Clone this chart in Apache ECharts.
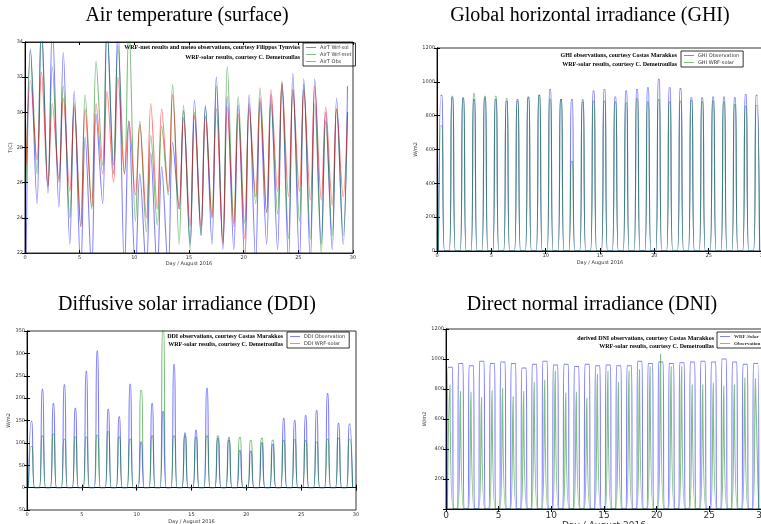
<!DOCTYPE html>
<html>
<head>
<meta charset="utf-8">
<script src="https://cdn.jsdelivr.net/npm/echarts@6/dist/echarts.min.js"></script>
<style>
  html, body { margin: 0; background: #fff; }
  #chart { width: 761px; height: 524px; }
</style>
</head>
<body>
<div id="chart"></div>
<script>
// day of August 2016 (0 = Aug 1), one entry per day
var days = [0, 1, 2, 3, 4, 5, 6, 7, 8, 9, 10, 11, 12, 13, 14, 15, 16, 17, 18, 19, 20, 21, 22, 23, 24, 25, 26, 27, 28, 29];
var xTicks = [0, 5, 10, 15, 20, 25, 30];

// air temperature, daily minimum (early morning) and maximum (midday), deg C
var tSolMin = [21, 24.8, 25.4, 24.6, 22.5, 21, 21, 24.8, 26.5, 21, 21, 21, 21, 21, 24.5, 22.5, 23, 22.5, 22.2, 22.2, 21.5, 21.5, 22.5, 22.2, 21.5, 21.5, 21.5, 22.5, 22.2, 22.5];
var tSolMax = [33.6, 35, 35, 33.4, 31.2, 28.6, 29.9, 35, 35, 29.5, 26.5, 27.7, 26.9, 28.3, 30.1, 30.7, 30.4, 32, 30.9, 30.4, 31, 30.6, 31, 31.6, 32.2, 31.9, 31.9, 30, 30.8, 31.5];
var tMetMin = [26, 26.5, 25.8, 26, 24, 23.5, 24.5, 27, 27, 26.5, 23.8, 23.2, 23.6, 25.3, 22.5, 22.2, 23, 24, 22.6, 23.7, 23.7, 24.8, 24.3, 24.2, 22.8, 23.8, 22.8, 22, 23, 23];
var tMetMax = [33.5, 35, 32.6, 31.5, 30.5, 31, 32.9, 35, 33.8, 35, 29.5, 28.7, 29.2, 31.6, 30.4, 30, 30.3, 31.5, 32.6, 30.9, 30.2, 31.4, 30.5, 31.8, 31.3, 31.6, 30.5, 29.5, 30.2, 30];
var tObsMin = [27, 27.3, 25.8, 26.2, 25.5, 23.5, 24.6, 26.5, 26, 26.5, 25.3, 24, 24.5, 25.5, 24.5, 23.5, 23.5, 24, 22.5, 23.5, 22.8, 25.2, 24.3, 25.5, 25.2, 25.5, 25, 25, 24.7, 25.2];
var tObsMax = [31.8, 32.3, 30.5, 30.8, 30.3, 30.2, 30.5, 31.2, 32, 29.5, 29.3, 30.5, 30.2, 31, 29.7, 29.8, 29.8, 30.2, 30.3, 29.9, 30.5, 30.8, 31.3, 31.7, 31.3, 31.3, 31.5, 30.3, 30.2, 30];

// daily peak irradiance, W/m2
var ghiObs = [920, 905, 905, 895, 905, 895, 885, 895, 910, 920, 955, 895, 895, 880, 945, 955, 910, 945, 955, 965, 1015, 965, 960, 905, 905, 910, 910, 905, 925, 920];
var ghiWrf = [740, 915, 900, 930, 915, 915, 900, 885, 905, 920, 895, 895, 530, 895, 885, 885, 880, 875, 900, 880, 895, 880, 885, 890, 880, 885, 880, 865, 855, 860];
var ddiObs = [148, 220, 188, 230, 177, 260, 305, 175, 158, 231, 102, 188, 170, 275, 122, 128, 222, 110, 112, 83, 82, 100, 97, 155, 150, 161, 172, 210, 144, 142];
var ddiWrf = [92, 115, 120, 108, 113, 113, 117, 125, 113, 108, 217, 115, 355, 115, 115, 112, 115, 115, 105, 112, 105, 110, 106, 105, 107, 105, 102, 108, 110, 107];
var dniWrf = [945, 970, 955, 985, 970, 980, 970, 940, 965, 985, 960, 965, 950, 965, 955, 960, 955, 955, 985, 970, 980, 970, 975, 980, 985, 980, 1000, 980, 965, 970];
var dniObs = [830, 785, 780, 745, 790, 805, 750, 785, 845, 860, 920, 775, 780, 740, 900, 920, 845, 920, 930, 950, 1035, 950, 950, 830, 830, 840, 820, 830, 875, 870];

var BLUE = 'rgba(0,0,255,0.5)';
var GREEN = 'rgba(0,128,0,0.5)';
var RED = 'rgba(255,0,0,0.5)';

// min in the early morning, max around midday
function tempLine(mins, maxs) {
  var out = [];
  for (var i = 0; i < days.length; i++) {
    out.push([days[i] + 0.1, mins[i]]);
    out.push([days[i] + 0.5, maxs[i]]);
  }
  return out;
}

// zero at night, dome around solar noon (top held for 'top' of a day)
function sunLine(peaks, rise, set, top) {
  var out = [];
  var mid = (rise + set) / 2;
  for (var i = 0; i < days.length; i++) {
    out.push([days[i] + rise, 0]);
    out.push([days[i] + mid - top / 2, peaks[i]]);
    out.push([days[i] + mid + top / 2, peaks[i]]);
    out.push([days[i] + set, 0]);
  }
  return out;
}

var chart = echarts.init(document.getElementById('chart'));

var grids = [
  {left: 25, top: 42, width: 328, height: 211},
  {left: 437, top: 48, width: 326, height: 203},
  {left: 27, top: 331, width: 329, height: 179},
  {left: 446, top: 329, width: 316, height: 180}
];

function xAx(i, fs, gap, mirror) {
  return {
    gridIndex: i, type: 'value', min: 0, max: 30, interval: 5,
    position: mirror ? 'top' : 'bottom',
    name: mirror ? '' : 'Day / August 2016', nameLocation: 'middle', nameGap: gap,
    nameTextStyle: {fontSize: fs, color: '#333', fontFamily: 'DejaVu Sans'},
    axisLine: {show: true, lineStyle: {color: '#000', width: 0.8}},
    axisTick: {inside: true, length: 3, lineStyle: {color: '#000'}},
    axisLabel: {show: !mirror, fontSize: fs, color: '#333', margin: 2, fontFamily: 'DejaVu Sans',
      formatter: function (v) { return xTicks.indexOf(v) >= 0 ? String(v) : ''; }},
    splitLine: {show: false}
  };
}

function yAx(i, min, max, step, name, gap, hideMin, mirror) {
  return {
    gridIndex: i, type: 'value', min: min, max: max, interval: step,
    position: mirror ? 'right' : 'left',
    name: mirror ? '' : name, nameLocation: 'middle', nameGap: gap,
    nameTextStyle: {fontSize: 5, color: '#333', fontFamily: 'DejaVu Sans'},
    axisLine: {show: true, lineStyle: {color: '#000', width: 0.8}},
    axisTick: {inside: true, length: 3, lineStyle: {color: '#000'}},
    axisLabel: {show: !mirror, fontSize: 5, color: '#333', margin: 2, showMinLabel: !hideMin,
      fontFamily: 'DejaVu Sans', formatter: function (v) { return String(v); }},
    splitLine: {show: false}
  };
}

function ser(name, xi, color, data) {
  return {
    name: name, type: 'line', xAxisIndex: xi, yAxisIndex: xi, data: data,
    showSymbol: false, smooth: 0.35, color: color,
    lineStyle: {width: 1.1, color: color}, animation: false
  };
}

function legendBox(names, left, top, font, bold) {
  return {
    data: names, orient: 'vertical', left: left, top: top,
    borderColor: '#000', borderWidth: 0.8, padding: [2, 4, 2, 3],
    itemGap: 2, itemWidth: 10, itemHeight: 1, icon: 'rect',
    textStyle: {fontSize: font, color: '#333', padding: [0, 0, 0, -1],
      fontFamily: bold ? 'Liberation Serif' : 'DejaVu Sans', fontWeight: bold ? 'bold' : 'normal'},
    selectedMode: false
  };
}

function caption(text, x, y, size) {
  return {type: 'text', x: x, y: y, style: {text: text, fill: '#000', align: 'center', verticalAlign: 'middle',
    font: 'normal ' + size + 'px "Liberation Serif"'}};
}

function note(text, x, y) {
  return {type: 'text', x: x, y: y, style: {text: text, fill: '#000', align: 'right', verticalAlign: 'middle',
    font: 'bold 6px "Liberation Serif"'}};
}

var option = {
  backgroundColor: '#fff',
  animation: false,
  grid: grids.map(function (g) {
    return {left: g.left, top: g.top, width: g.width, height: g.height, show: true,
      containLabel: false, outerBoundsMode: 'none',
      borderColor: '#000', borderWidth: 0.8, backgroundColor: 'transparent'};
  }),
  xAxis: [xAx(0, 5, 8), xAx(1, 5, 9), xAx(2, 5, 9), xAx(3, 9, 12),
    xAx(0, 5, 0, true), xAx(1, 5, 0, true), xAx(2, 5, 0, true), xAx(3, 5, 0, true)],
  yAxis: [
    yAx(0, 22, 34, 2, 'T(C)', 12, false),
    yAx(1, 0, 1200, 200, 'W/m2', 16, false),
    yAx(2, -50, 350, 50, 'W/m2', 14, false),
    yAx(3, 0, 1200, 200, 'W/m2', 17, true),
    yAx(0, 22, 34, 2, '', 0, false, true),
    yAx(1, 0, 1200, 200, '', 0, false, true),
    yAx(2, -50, 350, 50, '', 0, false, true),
    yAx(3, 0, 1200, 200, '', 0, false, true)
  ],
  legend: [
    legendBox(['AirT Wrf-sol', 'AirT Wrf-met', 'AirT Obs'], 303, 43, 5, false),
    legendBox(['GHI Observation', 'GHI WRF-solar'], 681, 51, 5, false),
    legendBox(['DDI Observation', 'DDI WRF-solar'], 287, 332, 5, false),
    legendBox(['WRF-Solar', 'Observation'], 717, 332, 5, true)
  ],
  series: [
    ser('AirT Wrf-sol', 0, BLUE, tempLine(tSolMin, tSolMax)),
    ser('AirT Wrf-met', 0, GREEN, tempLine(tMetMin, tMetMax)),
    ser('AirT Obs', 0, RED, tempLine(tObsMin, tObsMax)),
    ser('GHI Observation', 1, BLUE, sunLine(ghiObs, 0.13, 0.69, 0.12)),
    ser('GHI WRF-solar', 1, GREEN, sunLine(ghiWrf, 0.13, 0.69, 0.12)),
    ser('DDI Observation', 2, BLUE, sunLine(ddiObs, 0.13, 0.69, 0.08)),
    ser('DDI WRF-solar', 2, GREEN, sunLine(ddiWrf, 0.13, 0.69, 0.12)),
    ser('WRF-Solar', 3, BLUE, sunLine(dniWrf, 0.1, 0.7, 0.42)),
    ser('Observation', 3, GREEN, sunLine(dniObs, 0.13, 0.68, 0.06))
  ],
  graphic: [
    caption('Air temperature (surface)', 187, 16, 20),
    caption('Global horizontal irradiance (GHI)', 590, 16, 20),
    caption('Diffusive solar irradiance (DDI)', 187, 305, 20),
    caption('Direct normal irradiance (DNI)', 592, 305, 20),
    note('WRF-met results and meteo observations, courtesy Filippos Tymvios', 300, 47),
    note('WRF-solar results, courtesy C. Demetroullas', 300, 57),
    note('GHI observations, courtesy Costas Marakkos', 677, 55),
    note('WRF-solar results, courtesy C. Demetroullas', 677, 64),
    note('DDI observations, courtesy Costas Marakkos', 283, 336),
    note('WRF-solar results, courtesy C. Demetroullas', 283, 344),
    note('derived DNI observations, courtesy Costas Marakkos', 714, 338),
    note('WRF-solar results, courtesy C. Demetroullas', 714, 346)
  ]
};

chart.setOption(option);
</script>
</body>
</html>
